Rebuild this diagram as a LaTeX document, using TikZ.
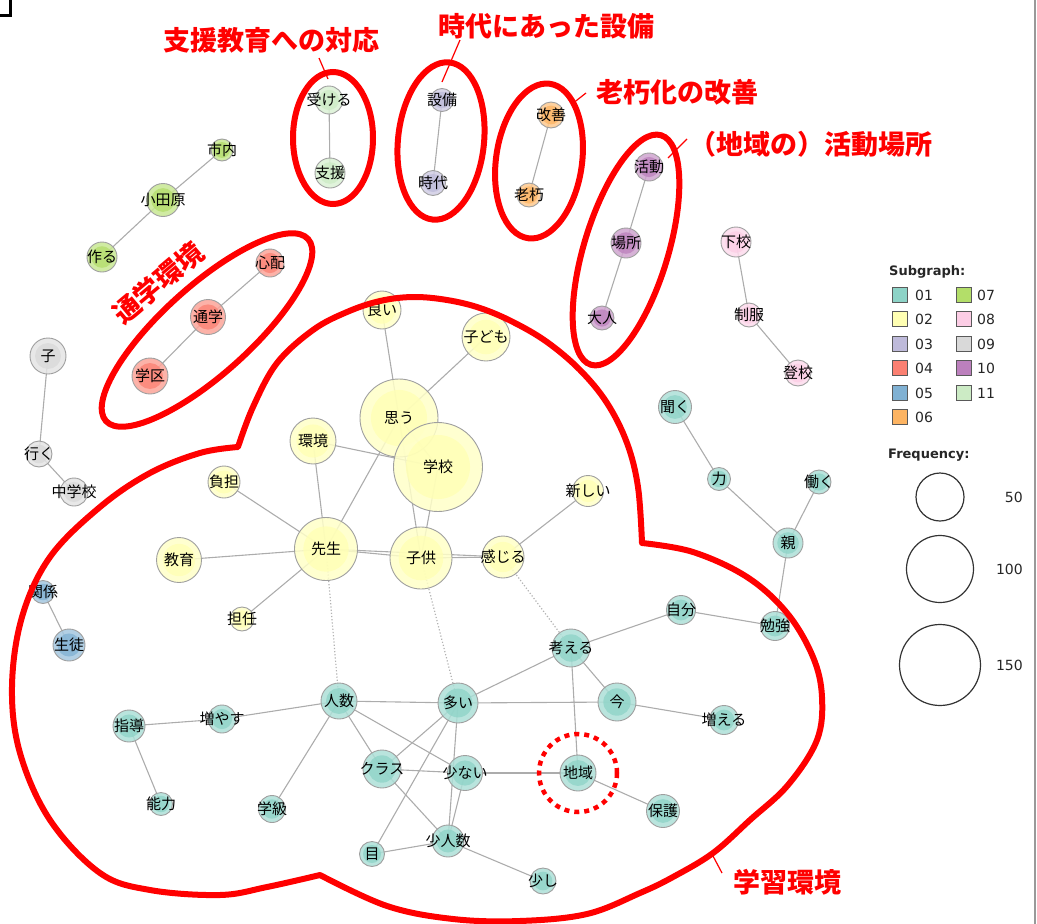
\documentclass[tikz,border=0pt]{standalone}
\usepackage{fontspec}
\setmainfont{DejaVu Sans}
\newfontfamily\jp{Noto Sans CJK JP}
\usetikzlibrary{backgrounds}
\definecolor{g01}{HTML}{8DD3C7}
\definecolor{g02}{HTML}{FFFFB3}
\definecolor{g03}{HTML}{BEBADA}
\definecolor{g04}{HTML}{FB8072}
\definecolor{g05}{HTML}{80B1D3}
\definecolor{g06}{HTML}{FDB462}
\definecolor{g07}{HTML}{B3DE69}
\definecolor{g08}{HTML}{FCCDE5}
\definecolor{g09}{HTML}{D9D9D9}
\definecolor{g10}{HTML}{BC80BD}
\definecolor{g11}{HTML}{CCEBC5}
\tikzset{
  wnode/.style={circle, inner sep=0pt, draw=gray!75, line width=0.9pt, fill opacity=0.85, text opacity=1},
  lbl/.style={font=\jp\fontsize{15}{17}\selectfont, text=black, inner sep=0pt},
  lnk/.style={draw=gray!65, line width=1.1pt},
  dlnk/.style={draw=gray!60, line width=1.2pt, dotted},
  redline/.style={draw=red, line width=6pt},
  redlab/.style={text=red, font=\jp\bfseries\fontsize{27}{30}\selectfont, inner sep=0pt},
  leader/.style={draw=red, line width=1.2pt},
  lgsq/.style={rectangle, draw=black!65, line width=1pt, minimum size=15pt, inner sep=0pt},
  lgtxt/.style={font=\fontsize{14}{16}\selectfont, inner sep=0pt, anchor=west, text=black!85},
  lghead/.style={font=\bfseries\fontsize{13}{15}\selectfont, inner sep=0pt, anchor=west, text=black!85},
  fqc/.style={circle, draw=black!80, line width=1.2pt, inner sep=0pt},
}
\newcommand\wn[6]{%
  \node[wnode, minimum size=2*#4pt, fill=#5!72!white] (#1) at (#2,#3) {};
  \fill[#5, fill opacity=0.75] (#1.center) circle[radius=0.72*#4pt];
  \node[lbl] at (#1.center) {#6};
}
\begin{document}
\begin{tikzpicture}[x=1pt,y=-1pt]
\useasboundingbox (0,0) rectangle (1037,924);
% frame bits
\draw[black, line width=3.5pt] (0,15.5) -- (10.5,15.5) -- (10.5,0);
\draw[gray!80, line width=1.3pt] (1035,0) -- (1035,924);

% ---- nodes
% 11
\wn{ukeru}{329}{100}{14}{g11}{受ける}
\wn{shien}{330}{173}{15}{g11}{支援}
% 03
\wn{setsubi}{442}{100}{11.5}{g03}{設備}
\wn{jidai}{433}{183}{12.5}{g03}{時代}
% 06
\wn{kaizen}{551}{115}{13}{g06}{改善}
\wn{rokyu}{529}{195}{12}{g06}{老朽}
% 10
\wn{katsudo}{649}{167}{14}{g10}{活動}
\wn{basho}{626}{243}{15}{g10}{場所}
\wn{otona}{602}{318}{12}{g10}{大人}
% 08
\wn{gekou}{736}{242}{15}{g08}{下校}
\wn{seifuku}{749}{315}{12}{g08}{制服}
\wn{toukou}{798}{373}{13}{g08}{登校}
% 07
\wn{shinai}{222}{150}{11}{g07}{市内}
\wn{odawara}{163}{200}{16.5}{g07}{小田原}
\wn{tsukuru}{102}{257}{15}{g07}{作る}
% 04
\wn{shinpai}{270}{263}{14}{g04}{心配}
\wn{tsugaku}{208}{317}{17.5}{g04}{通学}
\wn{gakku}{150}{376}{18}{g04}{学区}
% 09
\wn{ko}{48}{356}{18}{g09}{子}
\wn{iku}{39}{454}{13}{g09}{行く}
\wn{chugakko}{74}{492}{14}{g09}{中学校}
% 05
\wn{kankei}{43}{592}{11.5}{g05}{関係}
\wn{seito}{69}{645}{16}{g05}{生徒}
% 02
\wn{yoi}{382}{310}{19}{g02}{良い}
\wn{kodomoH}{486}{337}{24}{g02}{子ども}
\wn{omou}{399}{418}{39}{g02}{思う}
\wn{gakko}{438}{467}{44.5}{g02}{学校}
\wn{kankyo}{313}{441}{23}{g02}{環境}
\wn{futan}{224}{482}{16}{g02}{負担}
\wn{atarashii}{588}{491}{15.5}{g02}{新しい}
\wn{kyoiku}{179}{560}{22.5}{g02}{教育}
\wn{sensei}{326}{549}{31.5}{g02}{先生}
\wn{kodomo}{421}{558}{31}{g02}{子供}
\wn{kanjiru}{503}{557}{21}{g02}{感じる}
\wn{tannin}{242}{619}{12}{g02}{担任}
% 01
\wn{kiku}{675}{407}{16.5}{g01}{聞く}
\wn{chikara}{719}{479}{11.5}{g01}{力}
\wn{hataraku}{819}{482}{12}{g01}{働く}
\wn{oya}{788}{543}{15}{g01}{親}
\wn{jibun}{681}{610}{14.5}{g01}{自分}
\wn{benkyo}{775}{626}{14.5}{g01}{勉強}
\wn{kangaeru}{571}{648}{19}{g01}{考える}
\wn{ima}{617}{702}{19}{g01}{今}
\wn{fueru}{724}{720}{14.5}{g01}{増える}
\wn{ninzu}{339}{701}{18}{g01}{人数}
\wn{ooi}{458}{703}{20}{g01}{多い}
\wn{shido}{129}{726}{16}{g01}{指導}
\wn{fuyasu}{222}{719}{14}{g01}{増やす}
\wn{class}{382}{769}{19}{g01}{クラス}
\wn{sukunai}{465}{773}{17.5}{g01}{少ない}
\wn{chiiki}{578}{773}{18}{g01}{地域}
\wn{hogo}{663}{811}{16.5}{g01}{保護}
\wn{noryoku}{161}{804}{11.5}{g01}{能力}
\wn{gakkyu}{272}{809}{13.5}{g01}{学級}
\wn{shoninzu}{448}{841}{16}{g01}{少人数}
\wn{me}{372}{854}{12.5}{g01}{目}
\wn{sukoshi}{543}{881}{13}{g01}{少し}

% ---- edges
\begin{scope}[on background layer]
\foreach \a/\b in {ukeru/shien, setsubi/jidai, kaizen/rokyu, katsudo/basho, basho/otona,
  gekou/seifuku, seifuku/toukou, shinai/odawara, odawara/tsukuru, shinpai/tsugaku,
  tsugaku/gakku, ko/iku, iku/chugakko, kankei/seito,
  yoi/omou, kodomoH/omou, omou/gakko, omou/sensei, omou/kodomo, gakko/kodomo,
  kankyo/gakko, kankyo/sensei, futan/sensei, kyoiku/sensei, tannin/sensei,
  sensei/kodomo, sensei/kanjiru, kodomo/kanjiru, kanjiru/atarashii,
  kiku/chikara, chikara/oya, hataraku/oya, oya/benkyo, benkyo/jibun, jibun/kangaeru,
  kangaeru/ima, kangaeru/ooi, kangaeru/chiiki, ima/ooi, ima/fueru, ooi/ninzu,
  ooi/class, ooi/shoninzu, ooi/me, ninzu/class, ninzu/sukunai, ninzu/gakkyu,
  ninzu/fuyasu, fuyasu/shido, shido/noryoku, class/sukunai, class/shoninzu,
  sukunai/shoninzu, sukunai/chiiki, chiiki/hogo, shoninzu/me, shoninzu/sukoshi}
  \draw[lnk] (\a.center) -- (\b.center);
\foreach \a/\b in {sensei/ninzu, kodomo/ooi, kanjiru/kangaeru}
  \draw[dlnk] (\a.center) -- (\b.center);
\end{scope}

% ---- legend
\node[lghead] (sgh) at (889,272) {Subgraph:};
\foreach \c/\y/\t in {g01/295/01, g02/319/02, g03/344/03, g04/368/04, g05/393/05, g06/417/06}{
  \node[lgsq, fill=\c] (sq\t) at (899.5,\y) {};
  \node[lgtxt] (lt\t) at (915,\y) {\t};
}
\foreach \c/\y/\t in {g07/295/07, g08/319/08, g09/344/09, g10/368/10, g11/393/11}{
  \node[lgsq, fill=\c] (sq\t) at (963.5,\y) {};
  \node[lgtxt] (lt\t) at (977,\y) {\t};
}
\node[lghead] (fqh) at (888,455) {Frequency:};
\node[fqc, minimum size=48pt] (f50) at (940,497) {};
\node[fqc, minimum size=67pt] (f100) at (940,569) {};
\node[fqc, minimum size=81pt] (f150) at (940,665) {};
\node[lgtxt, anchor=east] (l50) at (1023,497) {50};
\node[lgtxt, anchor=east] (l100) at (1023,569) {100};
\node[lgtxt, anchor=east] (l150) at (1023,665) {150};

% ---- red annotations
\draw[redline] (333,138) ellipse[x radius=40pt, y radius=66pt];
\draw[redline, rotate around={-6:(441,141)}] (441,141) ellipse[x radius=43pt, y radius=79pt];
\draw[redline, rotate around={-8:(539,161)}] (539,161) ellipse[x radius=43pt, y radius=78pt];
\draw[redline, rotate around={-17:(626,250)}] (626,250) ellipse[x radius=42pt, y radius=120pt];
\draw[redline, rotate around={42:(207,330)}] (207,330) ellipse[x radius=136pt, y radius=44pt];
\draw[red, line width=4.5pt, dash pattern=on 5pt off 5pt] (chiiki.center) circle[radius=39pt];

\draw[redline, line join=round]
  plot[smooth, tension=0.6] coordinates {(238,447) (253,407) (277,363) (313,330) (347,312) (380,301) (413,297) (447,300) (480,308) (513,322) (547,342) (580,370) (607,403) (627,443) (638,487) (642,543)}
  -- plot[smooth, tension=0.6] coordinates {(642,543) (693,552) (747,577) (787,613) (813,657) (822,697) (817,740) (788,785) (750,820) (713,853) (673,877) (640,893) (587,914) (520,921) (453,919) (387,906) (320,875)}
  -- plot[smooth, tension=0.6] coordinates {(320,875) (267,887) (220,895) (150,890) (100,873) (50,820) (20,753) (12,687) (22,617) (50,557) (100,507) (150,473) (200,453) (238,447)}
  -- cycle;

\node[redlab] (t1) at (271,40) {支援教育への対応};
\node[redlab] (t2) at (546,26) {時代にあった設備};
\node[redlab] (t3) at (677,92) {老朽化の改善};
\node[redlab] (t4) at (811,144) {（地域の）活動場所};
\node[redlab, rotate=40] (t5) at (158,283) {通学環境};
\node[redlab] (t6) at (787,882) {学習環境};
\coordinate (a1s) at (319,58); \coordinate (a1e) at (328,79);
\coordinate (a2s) at (460,40); \coordinate (a2e) at (442,82);
\coordinate (a3s) at (586,93); \coordinate (a3e) at (572,104);
\coordinate (a4s) at (687,139); \coordinate (a4e) at (668,158);
\coordinate (a6s) at (713,856); \coordinate (a6e) at (722,873);
\draw[leader] (a1s) -- (a1e);
\draw[leader] (a2s) -- (a2e);
\draw[leader] (a3s) -- (a3e);
\draw[leader] (a4s) -- (a4e);
\draw[leader] (a6s) -- (a6e);
\end{tikzpicture}
\end{document}
